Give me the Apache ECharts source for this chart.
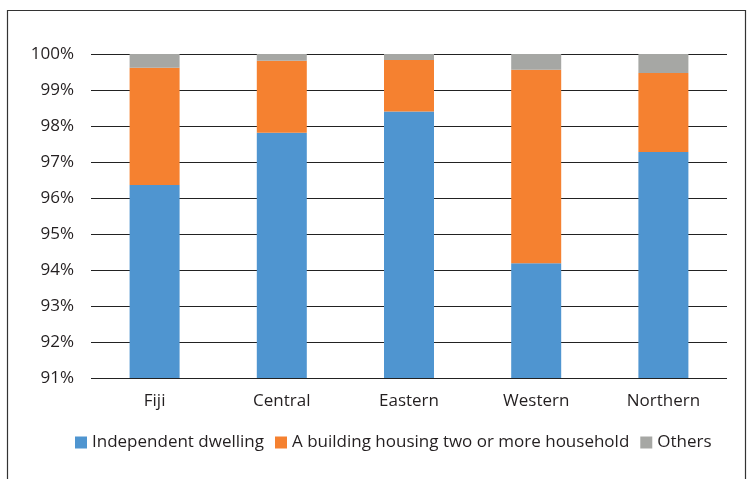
<!DOCTYPE html>
<html>
<head>
<meta charset="utf-8">
<script src="https://cdn.jsdelivr.net/npm/echarts@6/dist/echarts.min.js"></script>
<style>
  html, body { margin: 0; padding: 0; background: #fff; }
  #main { width: 747px; height: 479px; }
</style>
</head>
<body>
<div id="main"></div>
<script>
let categories = ['Fiji', 'Central', 'Eastern', 'Western', 'Northern'];
let independent = [96.36, 97.81, 98.40, 94.19, 97.28];
let twoOrMore = [3.26, 2.00, 1.43, 5.37, 2.19];
let others = [0.38, 0.19, 0.17, 0.44, 0.53];
let yTicks = { min: 91, max: 100, interval: 1 };

let myChart = echarts.init(document.getElementById('main'));
let font = 'Open Sans';

let option = {
  animation: false,
  textStyle: { fontFamily: font },
  graphic: [
    {
      // frame around the chart
      type: 'rect',
      shape: { x: 7.5, y: 10.5, width: 738, height: 500 },
      style: { fill: 'none', stroke: '#333', lineWidth: 1.2 },
      silent: true
    }
  ],
  grid: {
    left: 91,
    right: 20,
    top: 54,
    bottom: 101
  },
  legend: {
    data: ['Independent dwelling', 'A building housing two or more household', 'Others'],
    bottom: 23,
    left: 70,
    itemWidth: 12,
    itemHeight: 12,
    itemGap: 11,
    icon: 'rect',
    textStyle: { fontSize: 17, color: '#231f20', fontFamily: font }
  },
  xAxis: {
    type: 'category',
    data: categories,
    axisLine: { show: false },
    axisTick: { show: false },
    axisLabel: { fontSize: 17, color: '#231f20', margin: 15 }
  },
  yAxis: {
    type: 'value',
    min: yTicks.min,
    max: yTicks.max,
    interval: yTicks.interval,
    axisLine: { show: false },
    axisTick: { show: false },
    axisLabel: { formatter: '{value}%', fontSize: 17, color: '#231f20', margin: 17 },
    splitLine: { lineStyle: { color: '#222', width: 1.2 } }
  },
  series: [
    {
      name: 'Independent dwelling',
      type: 'bar',
      stack: 'total',
      barWidth: 50,
      itemStyle: { color: '#4f95d0' },
      data: independent
    },
    {
      name: 'A building housing two or more household',
      type: 'bar',
      stack: 'total',
      itemStyle: { color: '#f58130' },
      data: twoOrMore
    },
    {
      name: 'Others',
      type: 'bar',
      stack: 'total',
      itemStyle: { color: '#a6a7a4' },
      data: others
    }
  ]
};
myChart.setOption(option);
</script>
</body>
</html>
